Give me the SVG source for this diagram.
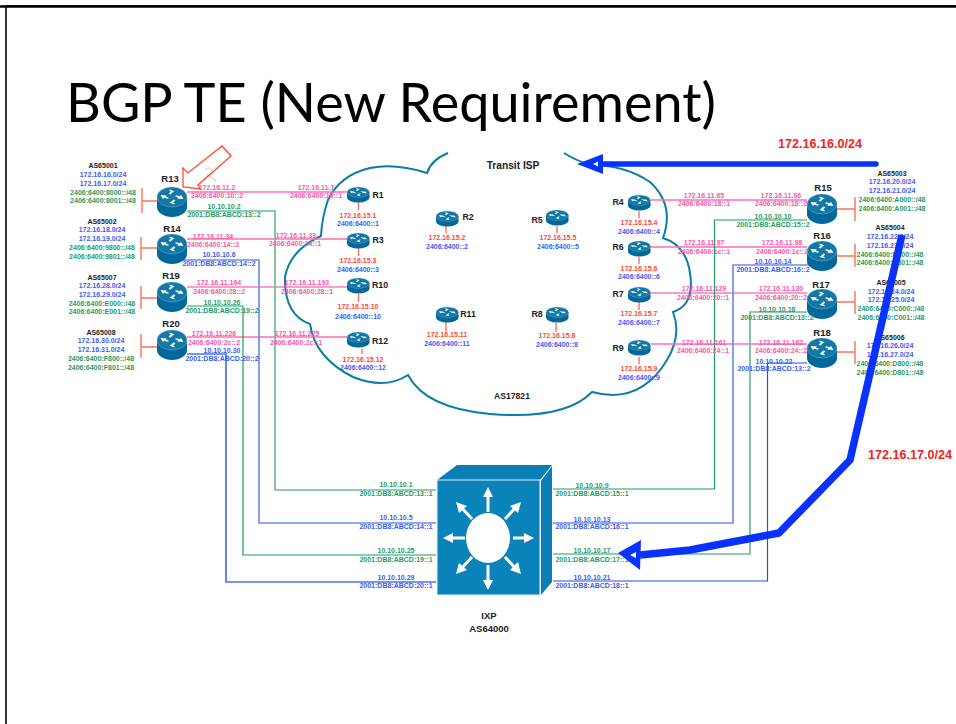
<svg xmlns="http://www.w3.org/2000/svg" xmlns:xlink="http://www.w3.org/1999/xlink" width="956" height="724" viewBox="0 0 956 724">
<style>
text{font-family:"Liberation Sans",Arial,sans-serif;font-weight:700;font-size:7px;text-anchor:middle}
.r{fill:#ff4a33}.b{fill:#3a5cff}.g{fill:#1f9d62}.p{fill:#ff55aa}.k{fill:#222}
.n{font-size:9.5px;fill:#222}.s{font-size:8.8px;fill:#222}
.pk{fill:none;stroke:#ff6db0;stroke-width:1.6}
.pd{fill:none;stroke:#f5409a;stroke-width:1.1}
.lg{fill:none;stroke:#70bb96;stroke-width:1.7}
.dg{fill:none;stroke:#1f9d62;stroke-width:1.2}
.lb{fill:none;stroke:#6f8cf5;stroke-width:1.7}
.db{fill:none;stroke:#2a4de8;stroke-width:1.2}
.st{fill:none;stroke:#ff7058;stroke-width:1.4}
.ar{fill:none;stroke:#fff;stroke-width:3}
.ah{fill:#fff}
</style>
<defs>
<g id="router">
<ellipse cx="15" cy="20" rx="15" ry="10" fill="#00689a"/>
<rect x="0" y="10" width="30" height="10" fill="#00689a"/>
<ellipse cx="15" cy="10" rx="15" ry="10" fill="#1478a6" stroke="#9ccbe0" stroke-width="0.4"/>
<path fill="#fff" d="M3.5,8 L10,8.5 L8.8,9.8 L12,10.8 L11,11.8 L7.2,10.8 L6,12 Z"/>
<path fill="#fff" d="M26.5,12 L20,11.5 L21.2,10.2 L18,9.2 L19,8.2 L22.8,9.2 L24,8 Z"/>
<path fill="#fff" d="M12.5,2.5 L17.5,4.2 L16.2,5 L13.5,7.5 L11.5,6.8 L14,4.6 L12.5,3.9 Z"/>
<path fill="#fff" d="M17.5,17.5 L12.5,15.8 L13.8,15 L16.5,12.5 L18.5,13.2 L16,15.4 L17.5,16.1 Z"/>
</g>
</defs>
<rect width="956" height="724" fill="#fff"/>
<path d="M6,724 V6 H956" fill="none" stroke="#000" stroke-width="1.6"/>
<path d="M0,6.5 H956" stroke="#000" stroke-width="2.5"/>
<text x="66" y="122" style="font-family:Lato,'Liberation Sans',sans-serif;font-weight:400;font-size:54px;text-anchor:start;fill:#000" textLength="650" lengthAdjust="spacingAndGlyphs">BGP TE (New Requirement)</text>

<g id="cloud">
<path fill="none" stroke="#0a7ea4" stroke-width="2" d="M448,153 Q431,160 427,173 Q395,163 370,168 Q340,175 328,200 Q322,217 321,236 Q290,250 285,277 Q284,315 310,324 Q315,358 353,377 Q385,390 408,375 Q425,408 490,414 Q565,420 592,392 Q640,405 667,360 Q682,335 673,312 Q695,305 690,273 Q686,245 663,238 Q675,205 650,182 Q625,165 590,165 Q575,160 564,153"/>
<text class="k" x="513" y="168.500" style="font-size:10.2px">Transit ISP</text>
<text class="k" x="512" y="398.500" style="font-size:8.6px">AS17821</text>
</g>

<g id="connectors">
<path class="pk" d="M187,192 H347"/><path class="pk" d="M187,239 H347"/>
<path class="pd" d="M187,287 H347"/><path class="pk" d="M187,337 H347"/>
<path class="pk" d="M651,200 H807"/><path class="pk" d="M651,247 H807"/>
<path class="pd" d="M651,293 H807"/><path class="pk" d="M651,344 H807"/>
<path class="lg" d="M187,211 H275 V490 H436"/>
<path class="lb" d="M183,260 H259 V523 H436"/>
<path class="dg" d="M187,306 H243 V555 H436"/>
<path class="lb" d="M187,354 H226 V582 H436" style="stroke:#4f6ff0"/>
<path class="dg" d="M807,220 H714.500 V489 H553"/>
<path class="lb" d="M810,265 H733 V523 H553"/>
<path class="lg" d="M807,312 H750 V554 H553"/>
<path class="db" d="M807,363 H767.500 V581 H553"/>
<path class="st" d="M157,201 H142 M142,188 V213"/>
<path class="st" d="M157,248 H141 M141,237 V260"/>
<path class="st" d="M157,298 H141 M141,286 V309"/>
<path class="st" d="M157,347 H141 M141,334 V358"/>
<path class="st" d="M837,209 H855 M855,197 V221"/>
<path class="st" d="M837,256 H855 M855,244 V267"/>
<path class="st" d="M837,302 H855 M855,291 V314"/>
<path class="st" d="M837,352 H855 M855,341 V364"/>
<path class="st" d="M358.500,202 V210 M358.500,248 V256 M358.500,294 V302 M362,349 V354 M446,226 V233 M446,322 V332 M557,226 V233 M556,323 V332 M639,211 V218 M639,257 V264 M639,302 V310 M639,357 V364"/>
</g>

<g id="R13"><use xlink:href="#router" href="#router" transform="translate(157,187)"/><text class="n" x="170" y="181.500">R13</text>
<text class="k" x="103" y="168">AS65001</text><text class="b" x="103" y="176.500">172.16.16.0/24</text><text class="b" x="103" y="185.500">172.16.17.0/24</text><text class="g" x="103" y="194.500">2406:6400:8000::/48</text><text class="g" x="103" y="203">2406:6400:8001::/48</text>
<text class="p" x="217" y="189.500">172.16.11.2</text><text class="p" x="217" y="197.500">2406:6400:10::2</text><text class="g" x="224" y="208.500">10.10.10.2</text><text class="g" x="224" y="217">2001:DB8:ABCD:13::2</text></g>
<g id="R14"><use xlink:href="#router" href="#router" transform="translate(157,234)"/><text class="n" x="172" y="231.500">R14</text>
<text class="k" x="102" y="224">AS65002</text><text class="b" x="102" y="232">172.16.18.0/24</text><text class="b" x="102" y="241">172.16.19.0/24</text><text class="g" x="102" y="249.500">2406:6400:9800::/48</text><text class="g" x="102" y="259">2406:6400:9801::/48</text>
<text class="p" x="213" y="238.500">172.16.11.34</text><text class="p" x="213" y="247">2406:6400:14::2</text><text class="b" x="219" y="257">10.10.10.6</text><text class="b" x="219" y="266">2001:DB8:ABCD:14::2</text></g>
<g id="R19"><use xlink:href="#router" href="#router" transform="translate(157,282)"/><text class="n" x="171" y="278.500">R19</text>
<text class="k" x="102" y="279.500">AS65007</text><text class="b" x="102" y="287.500">172.16.28.0/24</text><text class="b" x="102" y="297">172.16.29.0/24</text><text class="g" x="102" y="305.500">2406:6400:E000::/48</text><text class="g" x="102" y="314">2406:6400:E001::/48</text>
<text class="p" x="219" y="285">172.16.11.194</text><text class="p" x="219" y="294">2406:6400:28::2</text><text class="g" x="222" y="304.500">10.10.10.26</text><text class="g" x="222" y="313">2001:DB8:ABCD:19::2</text></g>
<g id="R20"><use xlink:href="#router" href="#router" transform="translate(157,330)"/><text class="n" x="171" y="326.500">R20</text>
<text class="k" x="101" y="334.500">AS65008</text><text class="b" x="101" y="342.500">172.16.30.0/24</text><text class="b" x="101" y="351.500">172.16.31.0/24</text><text class="g" x="101" y="360.500">2406:6400:F800::/48</text><text class="g" x="101" y="369.500">2406:6400:F801::/48</text>
<text class="p" x="214" y="335.500">172.16.11.226</text><text class="p" x="214" y="344.500">2406:6400:2c::2</text><text class="b" x="222" y="352.500">10.10.10.30</text><text class="b" x="222" y="361">2001:DB8:ABCD:20::2</text></g>

<g id="R1"><use xlink:href="#router" href="#router" transform="translate(347,187) scale(.75,.52)"/><text class="s" x="378" y="198">R1</text><text class="r" x="358" y="217.500">172.16.15.1</text><text class="b" x="358" y="226">2406:6400::1</text><text class="p" x="316" y="190">172.16.11.1</text><text class="p" x="316" y="198">2406:6400:10::1</text></g>
<g id="R3"><use xlink:href="#router" href="#router" transform="translate(347,233) scale(.75,.52)"/><text class="s" x="378" y="243">R3</text><text class="r" x="358" y="262.500">172.16.15.3</text><text class="b" x="358" y="271.500">2406:6400::3</text><text class="p" x="296" y="238">172.16.11.33</text><text class="p" x="295" y="246">2406:6400:14::1</text></g>
<g id="R10"><use xlink:href="#router" href="#router" transform="translate(347,278) scale(.75,.52)"/><text class="s" x="380" y="288">R10</text><text class="r" x="358" y="308.500">172.16.15.10</text><text class="b" x="358" y="318.500">2406:6400::10</text><text class="p" x="307" y="285">172.16.11.193</text><text class="p" x="307" y="294">2406:6400:28::1</text></g>
<g id="R12"><use xlink:href="#router" href="#router" transform="translate(347,332) scale(.75,.52)"/><text class="s" x="380" y="344">R12</text><text class="r" x="363" y="361.500">172.16.15.12</text><text class="b" x="363" y="370">2406:6400::12</text><text class="p" x="297" y="335.500">172.16.11.225</text><text class="p" x="296" y="344.500">2406:6400:2c::1</text></g>
<g id="R2"><use xlink:href="#router" href="#router" transform="translate(436,211) scale(.75,.52)"/><text class="s" x="468" y="220">R2</text><text class="r" x="447" y="240">172.16.15.2</text><text class="b" x="447" y="249">2406:6400::2</text></g>
<g id="R11"><use xlink:href="#router" href="#router" transform="translate(436,307) scale(.75,.52)"/><text class="s" x="468" y="317">R11</text><text class="r" x="447" y="336.500">172.16.15.11</text><text class="b" x="447" y="345.500">2406:6400::11</text></g>
<g id="R5"><use xlink:href="#router" href="#router" transform="translate(546,210) scale(.75,.52)"/><text class="s" x="537" y="223">R5</text><text class="r" x="558" y="240">172.16.15.5</text><text class="b" x="558" y="249">2406:6400::5</text></g>
<g id="R8"><use xlink:href="#router" href="#router" transform="translate(546,307) scale(.75,.52)"/><text class="s" x="537" y="317">R8</text><text class="r" x="557" y="338">172.16.15.8</text><text class="b" x="557" y="347">2406:6400::8</text></g>
<g id="R4"><use xlink:href="#router" href="#router" transform="translate(628,195) scale(.75,.52)"/><text class="s" x="618" y="205">R4</text><text class="r" x="639" y="224.500">172.16.15.4</text><text class="b" x="639" y="233.500">2406:6400::4</text><text class="p" x="704" y="197.500">172.16.11.65</text><text class="p" x="704" y="206">2406:6400:18::1</text></g>
<g id="R6"><use xlink:href="#router" href="#router" transform="translate(628,241) scale(.75,.52)"/><text class="s" x="618" y="250">R6</text><text class="r" x="639" y="270.500">172.16.15.6</text><text class="b" x="639" y="279">2406:6400::6</text><text class="p" x="704" y="244.500">172.16.11.97</text><text class="p" x="704" y="253.500">2406:6400:1c::1</text></g>
<g id="R7"><use xlink:href="#router" href="#router" transform="translate(628,287) scale(.75,.52)"/><text class="s" x="618" y="297">R7</text><text class="r" x="639" y="315.500">172.16.15.7</text><text class="b" x="639" y="324.500">2406:6400::7</text><text class="p" x="704" y="290.500">172.16.11.129</text><text class="p" x="703" y="300">2406:6400:20::1</text></g>
<g id="R9"><use xlink:href="#router" href="#router" transform="translate(628,340) scale(.75,.52)"/><text class="s" x="618" y="351">R9</text><text class="r" x="639" y="370.500">172.16.15.9</text><text class="b" x="639" y="380">2406:6400::9</text><text class="p" x="704" y="344.500">172.16.11.161</text><text class="p" x="703" y="353">2406:6400:24::1</text></g>

<g id="R15"><use xlink:href="#router" href="#router" transform="translate(807,194)"/><text class="n" x="823" y="190.500">R15</text>
<text class="k" x="892" y="175.500">AS65003</text><text class="b" x="892" y="184">172.16.20.0/24</text><text class="b" x="892" y="193">172.16.21.0/24</text><text class="g" x="892" y="201.500">2406:6400:A000::/48</text><text class="g" x="892" y="211">2406:6400:A001::/48</text>
<text class="p" x="781" y="197.500">172.16.11.66</text><text class="p" x="781" y="206">2406:6400:18::2</text><text class="g" x="773" y="218.500">10.10.10.10</text><text class="g" x="773" y="227">2001:DB8:ABCD:15::2</text></g>
<g id="R16"><use xlink:href="#router" href="#router" transform="translate(807,241)"/><text class="n" x="822" y="238.500">R16</text>
<text class="k" x="890" y="229.500">AS65004</text><text class="b" x="890" y="238.500">172.16.22.0/24</text><text class="b" x="890" y="247.500">172.16.23.0/24</text><text class="g" x="890" y="256.500">2406:6400:B800::/48</text><text class="g" x="890" y="264.500">2406:6400:B801::/48</text>
<text class="p" x="782" y="244.500">172.16.11.98</text><text class="p" x="782" y="253.500">2406:6400:1c::2</text><text class="b" x="773" y="263.500">10.10.10.14</text><text class="b" x="773" y="272">2001:DB8:ABCD:16::2</text></g>
<g id="R17"><use xlink:href="#router" href="#router" transform="translate(807,289)"/><text class="n" x="821" y="287.500">R17</text>
<text class="k" x="891" y="285">AS65005</text><text class="b" x="891" y="293.500">172.16.24.0/24</text><text class="b" x="891" y="302">172.16.25.0/24</text><text class="g" x="891" y="310.500">2406:6400:C000::/48</text><text class="g" x="891" y="319.500">2406:6400:C001::/48</text>
<text class="p" x="781" y="290.500">172.16.11.130</text><text class="p" x="781" y="300">2406:6400:20::2</text><text class="g" x="777" y="311.500">10.10.10.18</text><text class="g" x="777" y="319.500">2001:DB8:ABCD:13::2</text></g>
<g id="R18"><use xlink:href="#router" href="#router" transform="translate(807,338)"/><text class="n" x="822" y="335.500">R18</text>
<text class="k" x="890" y="339.500">AS65006</text><text class="b" x="890" y="348">172.16.26.0/24</text><text class="b" x="890" y="356.500">172.16.27.0/24</text><text class="g" x="890" y="366">2406:6400:D800::/48</text><text class="g" x="890" y="375">2406:6400:D801::/48</text>
<text class="p" x="781" y="344.500">172.16.11.162</text><text class="p" x="781" y="353">2406:6400:24::2</text><text class="b" x="774" y="363.500">10.10.10.22</text><text class="b" x="774" y="371">2001:DB8:ABCD:13::2</text></g>

<g id="IXP">
<path d="M437,480 L457,465 H552 L540,480 Z" fill="#0a7fb5"/>
<path d="M541,481 L552,466 V582 L541,595 Z" fill="#0a7fb5"/>
<rect x="437" y="480" width="103" height="115" fill="#0a82ba" stroke="#e4f2f8" stroke-width="1"/>
<ellipse cx="488" cy="538" rx="22" ry="25" fill="#fff"/>
<g class="ar">
<path d="M488,512 V493 M513,538 H528 M488,565 V584 M465,538 H449 M505,519 L517,506 M505,557 L517,570 M472,519 L460,506 M472,557 L460,570"/>
</g>
<g class="ah">
<path d="M488,487 L493,497 H483 Z M534,538 L524,533 V543 Z M488,590 L483,580 H493 Z M443,538 L453,533 V543 Z M521,502 L518,513 L510,506 Z M521,574 L510,570 L518,562 Z M456,502 L467,506 L459,513 Z M456,574 L459,563 L467,570 Z"/>
</g>
<text class="k" x="489" y="619" style="font-size:9.5px">IXP</text><text class="k" x="489" y="631.500" style="font-size:9.5px">AS64000</text>
<text class="g" x="396" y="486.500">10.10.10.1</text><text class="g" x="396" y="495.500">2001:DB8:ABCD:13::1</text>
<text class="b" x="396" y="520">10.10.10.5</text><text class="b" x="396" y="529">2001:DB8:ABCD:14::1</text>
<text class="g" x="396" y="552.500">10.10.10.25</text><text class="g" x="396" y="561.500">2001:DB8:ABCD:19::1</text>
<text class="b" x="396" y="579.500">10.10.10.29</text><text class="b" x="396" y="588">2001:DB8:ABCD:20::1</text>
<text class="g" x="592" y="488">10.10.10.9</text><text class="g" x="592" y="496">2001:DB8:ABCD:15::1</text>
<text class="b" x="592" y="521.500">10.10.10.13</text><text class="b" x="592" y="529">2001:DB8:ABCD:16::1</text>
<text class="g" x="592" y="552.500">10.10.10.17</text><text class="g" x="592" y="561.500">2001:DB8:ABCD:17::1</text>
<text class="b" x="592" y="579.500">10.10.10.21</text><text class="b" x="592" y="588">2001:DB8:ABCD:18::1</text>
</g>

<g id="annotations">
<path d="M205,170 Q209,166 212,170 Q212,175 208,175 L216,181 M208,175 L204,181" fill="none" stroke="#ddd" stroke-width="1.6"/>
<path d="M183,168 L188,173 L222,146 L231,156 L198,185 L200,189 L183,187 Z" fill="none" stroke="#ff4a2e" stroke-width="1.3"/>
<path d="M604,164 H876" fill="none" stroke="#0a32ff" stroke-width="5.500" stroke-linecap="round"/>
<path d="M577,164 L603,154 V174 Z" fill="#0a32ff"/>
<path d="M593,164 L598,161.500 V166.500 Z" fill="#fff"/>
<path d="M902,235 L850,460 L779,533 L690,550 L640,555" fill="none" stroke="#0a32ff" stroke-width="7.500" stroke-linejoin="round"/>
<path d="M618,553 L641,540 L640,570 Z" fill="#0a32ff"/>
<path d="M630,555 L636,552 L636,558 Z" fill="#fff"/>
<text x="820" y="147.500" style="font-size:12.600px;fill:#f4221c">172.16.16.0/24</text>
<text x="910" y="458.500" style="font-size:12.600px;fill:#f4221c">172.16.17.0/24</text>
</g>
</svg>
